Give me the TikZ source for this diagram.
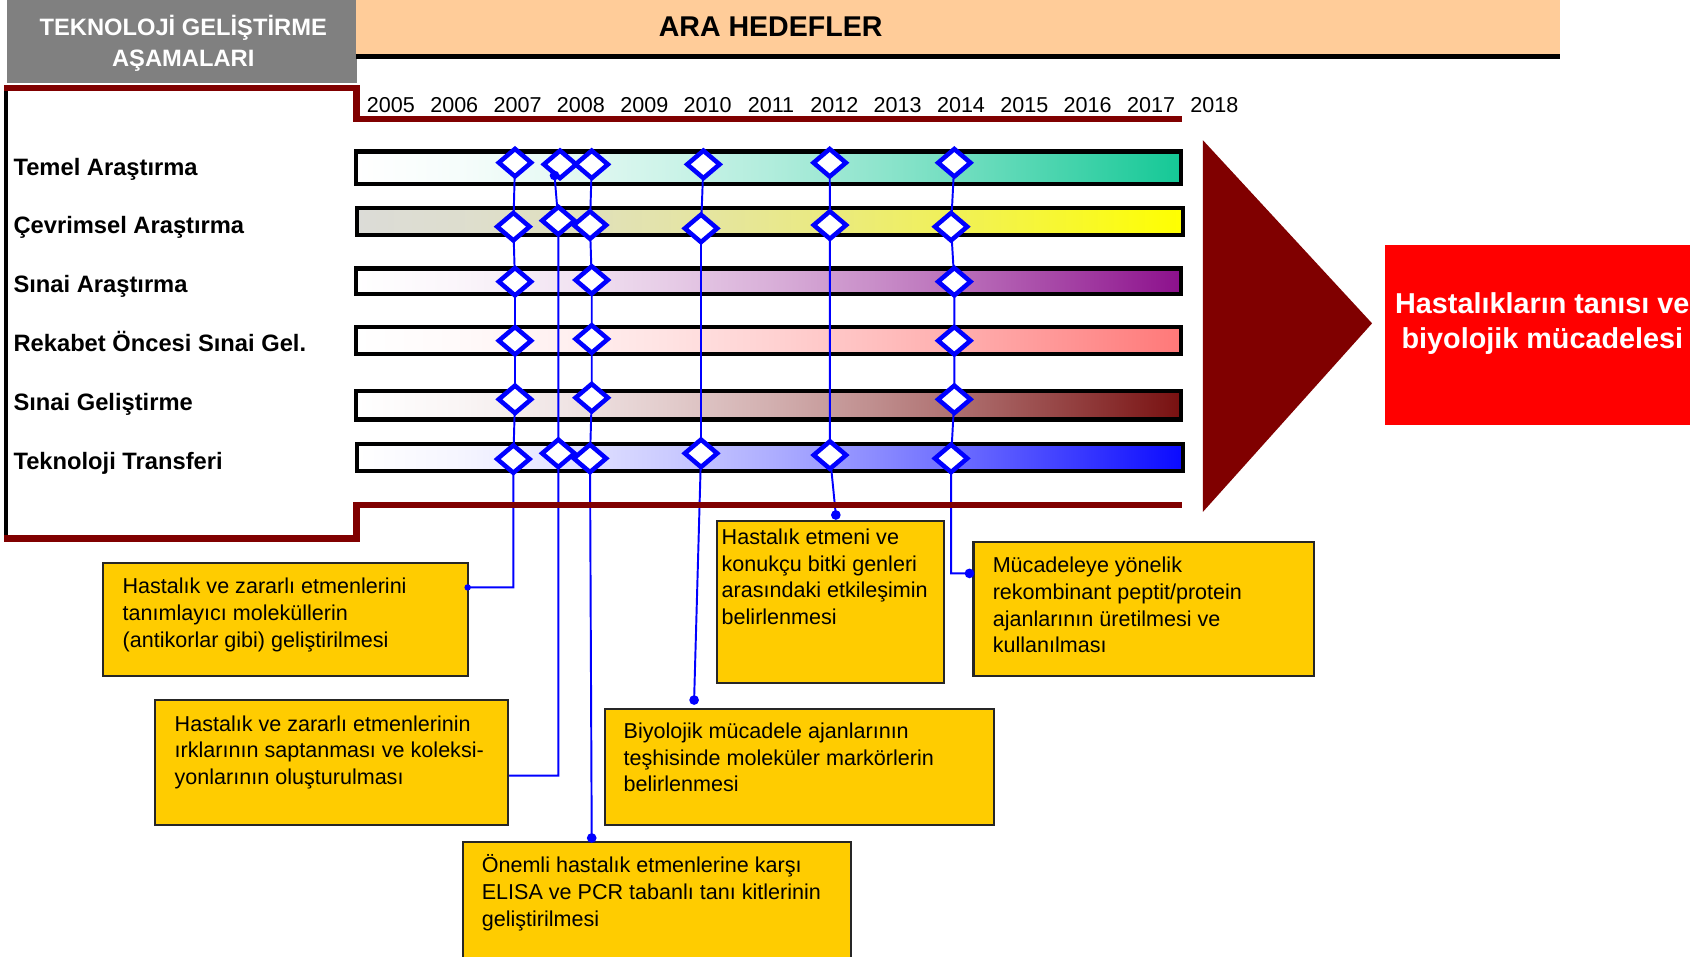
\documentclass[tikz,border=0pt]{standalone}
\usepackage{fontspec}
\setmainfont{Liberation Sans}
\usetikzlibrary{shapes.geometric}
\pgfdeclarelayer{bg}
\pgfsetlayers{bg,main}

\definecolor{hdrgray}{RGB}{128,128,128}
\definecolor{peach}{RGB}{255,204,153}
\definecolor{maroon}{RGB}{128,0,0}
\definecolor{gold}{RGB}{255,204,0}
\definecolor{tealend}{RGB}{20,200,150}
\definecolor{greystart}{RGB}{220,220,215}
\definecolor{purpleend}{RGB}{140,16,140}
\definecolor{pinkend}{RGB}{255,120,120}
\definecolor{darkredend}{RGB}{120,16,16}
\definecolor{blueend}{RGB}{10,10,255}
\definecolor{msblue}{RGB}{0,0,255}

% ease-in horizontal gradient: #1 name, #2 start colour, #3 end colour
\newcommand\easeshading[3]{%
  \pgfdeclarehorizontalshading{#1}{100bp}{%
    color(0bp)=(#2); color(25bp)=(#2);
    color(31.25bp)=(#3!4!#2); color(37.5bp)=(#3!11!#2);
    color(43.75bp)=(#3!21!#2); color(50bp)=(#3!33!#2);
    color(56.25bp)=(#3!47!#2); color(62.5bp)=(#3!63!#2);
    color(68.75bp)=(#3!81!#2); color(75bp)=(#3); color(100bp)=(#3)}}
\easeshading{shadeA}{white}{tealend}
\easeshading{shadeB}{greystart}{yellow}
\easeshading{shadeC}{white}{purpleend}
\easeshading{shadeD}{white}{pinkend}
\easeshading{shadeE}{white}{darkredend}
\easeshading{shadeF}{white}{blueend}

\tikzset{
  phasebar/.style={draw=black, line width=4, anchor=north west, inner sep=0, outer sep=0, minimum width=766, shade, shading=#1},
  milestone/.style={diamond, draw=msblue, fill=white, line width=4.2, minimum width=30, minimum height=25.5, inner sep=0, outer sep=0},
  link/.style={draw=msblue, line width=1.8},
  linkdot/.style={circle, fill=msblue, inner sep=0, outer sep=0, minimum size=9},
  goalbox/.style={draw=black!85, fill=gold, line width=2, anchor=north west, inner sep=0, outer sep=0},
  % multi-line nodes: the base anchor sits on the last line
  goaltext/.style={anchor=base west, align=left, inner sep=0, font=\fontsize{20}{24.8}\selectfont},
  phaselabel/.style={anchor=base west, inner sep=0, font=\bfseries\fontsize{22}{26}\selectfont},
  yearlabel/.style={anchor=base, inner sep=0, font=\fontsize{20}{24}\selectfont},
  frameline/.style={draw=maroon, line width=6, line join=miter},
}

\begin{document}
\begin{tikzpicture}[x=1pt,y=-1pt]
\useasboundingbox (0,0) rectangle (1568,887);
\begin{scope}
\clip (0,0) rectangle (1568,887);

% ---- header ----
\node[fill=hdrgray, anchor=north west, inner sep=0, outer sep=0, minimum width=324.6, minimum height=77.3] (hdrL) at (6.4,0) {};
\node[anchor=base, align=center, inner sep=0, text=white, font=\bfseries\fontsize{22}{28.7}\selectfont] (hdrLtxt) at (170,61.3) {TEKNOLOJİ GELİŞTİRME\\AŞAMALARI};
\node[fill=peach, anchor=north west, inner sep=0, outer sep=0, minimum width=1117, minimum height=50.5] (hdrR) at (330,0) {};
\draw[line width=4.3] (hdrR.south west) ++(0,2) coordinate (hl) -- (hl -| hdrR.south east);
\node[anchor=base, inner sep=0, font=\bfseries\fontsize{26.5}{30}\selectfont] (hdrRtxt) at (715,33.5) {ARA HEDEFLER};

% ---- years ----
\foreach \yr [count=\i from 0] in {2005,2006,2007,2008,2009,2010,2011,2012,2013,2014,2015,2016,2017,2018}
  \node[yearlabel] (y\yr) at (362.7+58.77*\i,104.6) {\yr};

% ---- phase labels ----
\node[phaselabel] (l1) at (12.4,162.5) {Temel Araştırma};
\node[phaselabel] (l2) at (12.4,216.4) {Çevrimsel Araştırma};
\node[phaselabel] (l3) at (12.4,271.4) {Sınai Araştırma};
\node[phaselabel] (l4) at (12.4,326.4) {Rekabet Öncesi Sınai Gel.};
\node[phaselabel] (l5) at (12.4,380.4) {Sınai Geliştirme};
\node[phaselabel] (l6) at (12.4,435.4) {Teknoloji Transferi};

% ---- gradient bars ----
\begin{pgfonlayer}{bg}
\node[phasebar=shadeA, minimum height=30]   (b1) at (330,140.6) {};
\node[phasebar=shadeB, minimum height=25]   (b2) at (331.5,193) {};
\node[phasebar=shadeC, minimum height=24]   (b3) at (330,249) {};
\node[phasebar=shadeD, minimum height=24.7] (b4) at (330,303.6) {};
\node[phasebar=shadeE, minimum height=26.6] (b5) at (330,362.6) {};
\node[phasebar=shadeF, minimum height=25.4] (b6) at (331.5,411.8) {};
\end{pgfonlayer}

% ---- frame ----
\draw[line width=4.3] (5.7,81.5) -- (5.7,499.5);
\draw[frameline] (3.5,81.5) -- (330.6,81.5) -- (330.6,110.6) -- (1097,110.6);
\draw[frameline] (3.5,499.5) -- (330.6,499.5) -- (330.6,468.6) -- (1097,468.6);

% ---- milestones ----
\node[milestone] (d11) at (477.8,150.9) {};
\node[milestone] (d12) at (519.6,152.5) {};
\node[milestone] (d13) at (549.0,152.5) {};
\node[milestone] (d14) at (652.6,152.5) {};
\node[milestone] (d15) at (769.8,151.0) {};
\node[milestone] (d16) at (885.4,151.0) {};

\node[milestone] (d21) at (476.3,210.3) {};
\node[milestone] (d22) at (518.0,204.7) {};
\node[milestone] (d23) at (547.4,208.8) {};
\node[milestone] (d24) at (650.4,211.9) {};
\node[milestone] (d25) at (770.0,208.8) {};
\node[milestone] (d26) at (882.4,210.3) {};

\node[milestone] (d31) at (477.8,261.3) {};
\node[milestone] (d33) at (549.0,259.8) {};
\node[milestone] (d36) at (885.4,261.3) {};

\node[milestone] (d41) at (477.8,316.1) {};
\node[milestone] (d43) at (549.0,314.5) {};
\node[milestone] (d46) at (885.4,316.1) {};

\node[milestone] (d51) at (477.8,370.5) {};
\node[milestone] (d53) at (549.0,369.0) {};
\node[milestone] (d56) at (885.4,370.5) {};

\node[milestone] (d61) at (476.3,425.9) {};
\node[milestone] (d62) at (518.0,420.6) {};
\node[milestone] (d63) at (547.4,425.3) {};
\node[milestone] (d64) at (650.4,420.6) {};
\node[milestone] (d65) at (770.0,422.2) {};
\node[milestone] (d66) at (882.4,425.3) {};

% ---- goal boxes ----
\node[goalbox, minimum width=338,   minimum height=104.5] (gA) at (95.9,522.7) {};
\node[goalbox, minimum width=327,   minimum height=115.9] (gB) at (144.2,649.5) {};
\node[goalbox, minimum width=360,   minimum height=130]   (gC) at (429.4,781.4) {};
\node[goalbox, minimum width=361.2, minimum height=107.7] (gD) at (561.3,657.5) {};
\node[goalbox, minimum width=210.2, minimum height=150.3] (gE) at (665.4,483.1) {};
\node[goalbox, minimum width=316,   minimum height=124]   (gF) at (903.2,503.2) {};

\node[goaltext] (tA) at (113.6,600.5) {Hastalık ve zararlı etmenlerini\\tanımlayıcı moleküllerin\\(antikorlar gibi) geliştirilmesi};
\node[goaltext] (tB) at (161.9,727.9) {Hastalık ve zararlı etmenlerinin\\ırklarının saptanması ve koleksi-\\yonlarının oluşturulması};
\node[goaltext] (tC) at (446.8,859.4) {Önemli hastalık etmenlerine karşı\\ELISA ve PCR tabanlı tanı kitlerinin\\geliştirilmesi};
\node[goaltext] (tD) at (578.4,734.8) {Biyolojik mücadele ajanlarının\\teşhisinde moleküler markörlerin\\belirlenmesi};
\node[goaltext] (tE) at (669.4,579.6) {Hastalık etmeni ve\\konukçu bitki genleri\\arasındaki etkileşimin\\belirlenmesi};
\node[goaltext] (tF) at (920.9,605.8) {Mücadeleye yönelik\\rekombinant peptit/protein\\ajanlarının üretilmesi ve\\kullanılması};

% ---- connector end points ----
\node[linkdot, minimum size=6] (kA) at (433.9,545) {};
\coordinate (kB) at (471.2,719.7);
\node[linkdot] (k2) at (514.5,162.8) {};
\node[linkdot] (k3) at (549,777.5) {};
\node[linkdot] (k4) at (644,649.5) {};
\node[linkdot] (k5) at (775.5,477.8) {};
\node[linkdot] (k6) at (899.5,532) {};

% ---- connectors ----
\begin{pgfonlayer}{bg}
\draw[link] (d11.center) -- (d21.center) -- (d31.center) -- (d41.center) -- (d51.center) -- (d61.center) |- (kA.center);
\draw[link] (k2.center) -- (d22.center) -- (d62.center) |- (kB);
\draw[link] (d13.center) -- (d23.center) -- (d33.center) -- (d43.center) -- (d53.center) -- (d63.center) -- (k3.center);
\draw[link] (d14.center) -- (d24.center) -- (d64.center) -- (k4.center);
\draw[link] (d15.center) -- (d25.center) -- (d65.center) -- (k5.center);
\draw[link] (d16.center) -- (d26.center) -- (d36.center) -- (d46.center) -- (d56.center) -- (d66.center) |- (k6.center);
\end{pgfonlayer}

% ---- outcome ----
\fill[maroon] (1116,130) -- (1273,300) -- (1116,475) -- cycle;
\node[fill=red, anchor=north west, inner sep=0, outer sep=0, minimum width=300, minimum height=167] (goal) at (1285,227) {};
\node[anchor=base, align=center, inner sep=0, text=white, font=\bfseries\fontsize{26.7}{33}\selectfont] (goaltxt) at (1431,323.5) {Hastalıkların tanısı ve\\biyolojik mücadelesi};
\end{scope}
\end{tikzpicture}
\end{document}
